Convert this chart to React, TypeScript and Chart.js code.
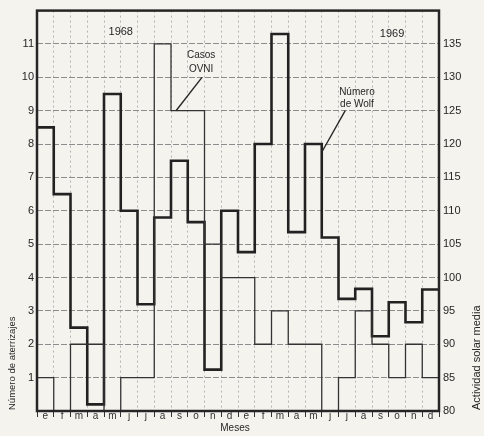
import React, { useEffect, useRef } from 'react';
import { Chart, registerables } from 'chart.js';

Chart.register(...registerables);

// ---- data ----
const MONTHS = ['e', 'f', 'm', 'a', 'm', 'j', 'j', 'a', 's', 'o', 'n', 'd', 'e', 'f', 'm', 'a', 'm', 'j', 'j', 'a', 's', 'o', 'n', 'd'];
const UFO_1968 = [1, 0, 2, 2, 0, 1, 1, 11, 9, 9, 5, 4];
const UFO_1969 = [4, 2, 3, 2, 2, 0, 1, 3, 2, 1, 2, 1];
const WOLF_1968 = [122.5, 112.5, 92.5, 81, 127.5, 110, 96, 109, 117.5, 108.3, 86.2, 110];
const WOLF_1969 = [103.8, 120, 136.5, 106.8, 120, 106, 96.8, 98.3, 91.2, 96.3, 93.3, 98.2];
const LEFT_MIN = 0;
const LEFT_MAX = 12;
const RIGHT_MIN = 80;
const RIGHT_MAX = 140;

const FONT = "'Liberation Sans', Arial, sans-serif";
const INK = '#262626';

const toSteps = (vals: number[]) => [
  ...vals.map((y, i) => ({ x: i, y })),
  { x: vals.length, y: vals[vals.length - 1] },
];

const bgPlugin = {
  id: 'paper',
  beforeDraw(chart: any) {
    const { ctx, width, height } = chart;
    ctx.save();
    ctx.fillStyle = '#f5f3ee';
    ctx.fillRect(0, 0, width, height);
    ctx.restore();
  },
};

const framePlugin = {
  id: 'frame',
  afterDatasetsDraw(chart: any) {
    const { ctx, chartArea: a } = chart;
    ctx.save();
    ctx.strokeStyle = INK;
    ctx.lineWidth = 2.5;
    ctx.strokeRect(a.left, a.top, a.right - a.left, a.bottom - a.top);
    ctx.restore();
  },
};

const textPlugin = {
  id: 'texts',
  afterDraw(chart: any) {
    const { ctx, chartArea: a } = chart;
    const xs = chart.scales.x;
    const ys = chart.scales.y;
    const px = (v: number) => xs.getPixelForValue(v);
    const py = (v: number) => ys.getPixelForValue(v);
    ctx.save();
    ctx.fillStyle = INK;
    ctx.strokeStyle = INK;
    ctx.textAlign = 'center';
    ctx.textBaseline = 'middle';

    ctx.font = `11px ${FONT}`;
    ctx.fillText('1968', px(5.0), py(11.35));
    ctx.fillText('1969', px(21.2), py(11.29));

    ctx.font = `10px ${FONT}`;
    ctx.fillText('Casos', px(9.8), py(10.66));
    ctx.fillText('OVNI', px(9.8), py(10.24));
    ctx.fillText('Número', px(19.1), py(9.55));
    ctx.fillText('de Wolf', px(19.1), py(9.19));

    ctx.lineWidth = 1.4;
    ctx.beginPath();
    ctx.moveTo(px(9.85), py(10.0));
    ctx.lineTo(px(8.3), py(9.0));
    ctx.stroke();
    ctx.beginPath();
    ctx.moveTo(px(18.4), py(9.0));
    ctx.lineTo(px(17.05), py(7.8));
    ctx.stroke();

    // axis titles
    ctx.font = `10px ${FONT}`;
    ctx.fillText('Meses', (a.left + a.right) / 2 - 3, 428);

    ctx.save();
    ctx.translate(12, a.bottom);
    ctx.rotate(-Math.PI / 2);
    ctx.textAlign = 'left';
    ctx.font = `9.5px ${FONT}`;
    ctx.fillText('Número de aterrizajes', 1, 0);
    ctx.restore();

    ctx.save();
    ctx.translate(477, a.bottom);
    ctx.rotate(-Math.PI / 2);
    ctx.textAlign = 'left';
    ctx.font = `11px ${FONT}`;
    ctx.fillText('Actividad solar media', 1, 0);
    ctx.restore();

    ctx.restore();
  },
};

export default function App() {
  const ref = useRef<HTMLCanvasElement | null>(null);

  useEffect(() => {
    if (!ref.current) return;
    const chart = new Chart(ref.current, {
      type: 'line',
      data: {
        datasets: [
          {
            label: 'Casos OVNI',
            data: toSteps([...UFO_1968, ...UFO_1969]),
            xAxisID: 'x',
            yAxisID: 'y',
            stepped: 'before',
            borderColor: '#333',
            borderWidth: 1.3,
            pointRadius: 0,
            fill: false,
          },
          {
            label: 'Número de Wolf',
            data: toSteps([...WOLF_1968, ...WOLF_1969]),
            xAxisID: 'x',
            yAxisID: 'y2',
            stepped: 'before',
            borderColor: '#222',
            borderWidth: 2.6,
            pointRadius: 0,
            fill: false,
          },
        ],
      },
      options: {
        responsive: false,
        animation: false,
        layout: { padding: { top: 10, left: 0, right: 0, bottom: 0 } },
        plugins: { legend: { display: false }, tooltip: { enabled: false } },
        scales: {
          x: {
            type: 'linear',
            display: false,
            min: 0,
            max: MONTHS.length,
          },
          xm: {
            type: 'category',
            labels: MONTHS,
            position: 'bottom',
            offset: true,
            grid: {
              offset: true,
              drawOnChartArea: true,
              color: '#b4b4b4',
              lineWidth: 1,
              tickLength: 6,
              tickColor: '#333',
              tickWidth: 1,
              tickBorderDash: [],
            },
            border: { display: false, dash: [2, 3] },
            ticks: {
              autoSkip: false,
              maxRotation: 0,
              padding: -7,
              color: '#333',
              font: { family: FONT, size: 10 },
            },
            afterFit: (s: any) => {
              s.height = 25;
            },
          },
          y: {
            type: 'linear',
            position: 'left',
            min: LEFT_MIN,
            max: LEFT_MAX,
            grid: { color: '#8c8c8c', lineWidth: 1, drawTicks: false },
            border: { display: false, dash: [6, 2] },
            ticks: {
              stepSize: 1,
              padding: 3,
              color: INK,
              font: { family: FONT, size: 11 },
              callback: (v: any) => (v === LEFT_MIN || v === LEFT_MAX ? '' : String(v)),
            },
            afterFit: (s: any) => {
              s.width = 37;
            },
          },
          y2: {
            type: 'linear',
            position: 'right',
            min: RIGHT_MIN,
            max: RIGHT_MAX,
            grid: { drawOnChartArea: false, drawTicks: false },
            border: { display: false },
            ticks: {
              stepSize: 5,
              padding: 4,
              color: INK,
              font: { family: FONT, size: 11 },
              callback: (v: any) => (v === RIGHT_MAX ? '' : String(v)),
            },
            afterFit: (s: any) => {
              s.width = 45;
            },
          },
        },
      },
      plugins: [bgPlugin, framePlugin, textPlugin],
    });
    return () => chart.destroy();
  }, []);

  return (
    <canvas
      ref={ref}
      width={484}
      height={436}
      style={{ position: 'fixed', left: 0, top: 0, width: 484, height: 436, display: 'block' }}
    />
  );
}
